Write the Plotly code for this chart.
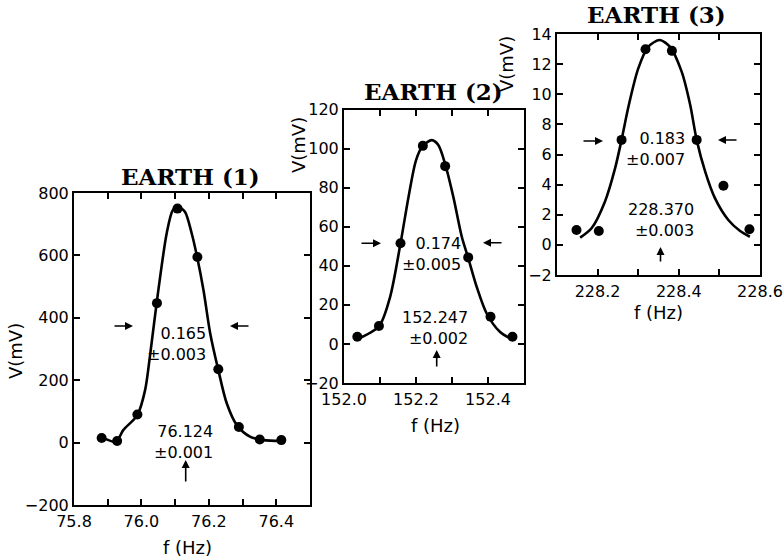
import plotly.graph_objects as go

# ---------------- data ----------------
# EARTH (1)
f1 = [75.882, 75.928, 75.988, 76.046, 76.107, 76.166, 76.228, 76.289, 76.351, 76.415]
v1 = [15, 5, 90, 447, 750, 595, 235, 50, 10, 8]
fit_f1 = [75.893, 75.925, 75.946, 75.988, 76.011, 76.025, 76.040, 76.057, 76.075, 76.093,
          76.109, 76.129, 76.149, 76.166, 76.184, 76.204, 76.228, 76.253, 76.283, 76.322,
          76.362, 76.415]
fit_v1 = [12, 3, 40, 88, 169, 275, 404, 543, 671, 745,
          756, 740, 671, 591, 489, 350, 233, 126, 56, 19,
          8, 5]

# EARTH (2)
f2 = [152.037, 152.097, 152.157, 152.219, 152.281, 152.345, 152.407, 152.468]
v2 = [3.7, 9.2, 51.5, 101.4, 91.0, 44.3, 13.9, 3.7]
fit_f2 = [152.031, 152.097, 152.128, 152.157, 152.179, 152.200, 152.219, 152.244, 152.262,
          152.281, 152.304, 152.327, 152.345, 152.369, 152.396, 152.433, 152.470]
fit_v2 = [2.0, 9, 24, 51.5, 75, 94, 101.5, 104.3, 101.8,
          92, 75, 55, 44, 29, 15.7, 6.2, 2]

# EARTH (3)
f3 = [228.148, 228.203, 228.259, 228.318, 228.383, 228.444, 228.510, 228.574]
v3 = [0.99, 0.92, 6.97, 12.99, 12.88, 6.97, 3.93, 1.04]
fit_f3 = [228.157, 228.185, 228.218, 228.243, 228.259, 228.277, 228.300, 228.325, 228.353,
          228.378, 228.407, 228.428, 228.444, 228.465, 228.489, 228.522, 228.551, 228.575]
fit_v3 = [0.48, 1.1, 2.87, 5.08, 6.97, 9.3, 11.7, 13.16, 13.6,
          13.16, 11.5, 9.3, 6.97, 4.86, 3.1, 1.65, 0.92, 0.54]

titles = ["EARTH (1)", "EARTH (2)", "EARTH (3)"]
widths = ["0.165", "0.174", "0.183"]
width_err = ["±0.003", "±0.005", "±0.007"]
centers = ["76.124", "152.247", "228.370"]
center_err = ["±0.001", "±0.002", "±0.003"]

x_ranges = [[75.8, 76.5], [152.0, 152.5], [228.1, 228.6]]
x_major = [[75.8, 76.0, 76.2, 76.4], [152.0, 152.2, 152.4], [228.2, 228.4, 228.6]]
x_minor = [[75.9, 76.1, 76.3], [152.1, 152.3], [228.1, 228.3, 228.5]]
y_ranges = [[-200, 800], [-20, 120], [-2, 14]]
y_dtick = [200, 20, 2]

# ---------------- layout helpers ----------------
W, H = 783, 559


def px(x):
    return x / W


def py(y):
    return 1 - y / H


# plot boxes in pixels: (left, right, top, bottom)
boxes = [(74, 310, 193, 505), (344, 524, 109.5, 383), (557, 760, 34, 275)]

TICKFONT = dict(family="DejaVu Sans", size=16, color="black")
fig = go.Figure()

series = [(f1, v1, fit_f1, fit_v1), (f2, v2, fit_f2, fit_v2), (f3, v3, fit_f3, fit_v3)]
for i, (fx, vy, ffx, fvy) in enumerate(series):
    sfx = "" if i == 0 else str(i + 1)
    fig.add_trace(go.Scatter(x=ffx, y=fvy, mode="lines",
                             line=dict(color="black", width=2.6, shape="spline", smoothing=0.8),
                             xaxis="x" + sfx, yaxis="y" + sfx, showlegend=False, hoverinfo="skip"))
    fig.add_trace(go.Scatter(x=fx, y=vy, mode="markers",
                             marker=dict(color="black", size=10),
                             xaxis="x" + sfx, yaxis="y" + sfx, showlegend=False))

layout = dict(width=W, height=H, margin=dict(l=0, r=0, t=0, b=0, autoexpand=False),
              paper_bgcolor="white", plot_bgcolor="white", showlegend=False,
              template="none")

for i, (l, r, t, b) in enumerate(boxes):
    sfx = "" if i == 0 else str(i + 1)
    layout["xaxis" + sfx] = dict(
        domain=[px(l), px(r)], anchor="y" + sfx, range=x_ranges[i], automargin=False,
        tickmode="array", tickvals=x_major[i], ticktext=[f"{v:.1f}" for v in x_major[i]],
        ticks="inside", ticklen=6, tickwidth=1.5, tickcolor="black",
        minor=dict(tickmode="array", tickvals=x_minor[i], ticks="inside", ticklen=6,
                   tickwidth=1.5, tickcolor="black", showgrid=False),
        showline=True, linecolor="black", linewidth=2, mirror="allticks",
        showgrid=False, zeroline=False, tickfont=TICKFONT, ticklabelstandoff=1)
    layout["yaxis" + sfx] = dict(
        domain=[py(b), py(t)], anchor="x" + sfx, range=y_ranges[i], automargin=False,
        dtick=y_dtick[i], tick0=y_ranges[i][0],
        ticks="inside", ticklen=6, tickwidth=1.5, tickcolor="black",
        showline=True, linecolor="black", linewidth=2, mirror="allticks",
        showgrid=False, zeroline=False, tickfont=TICKFONT)

fig.update_layout(**layout)

ann = []
TXT = dict(family="DejaVu Sans", size=16, color="black")

# panel titles
title_pos = [(190, 176), (433, 91.5), (656, 15)]
for (x, y), t in zip(title_pos, titles):
    ann.append(dict(x=px(x), y=py(y), xref="paper", yref="paper", text=t, showarrow=False,
                    xanchor="center", yanchor="middle",
                    font=dict(family="DejaVu Serif", size=23, color="black", weight="bold")))

# axis titles
vpos = [(15, 351), (298, 145), (507, 64)]
fpos = [(187.5, 547), (435, 425), (658, 312)]
for (x, y) in vpos:
    ann.append(dict(x=px(x), y=py(y), xref="paper", yref="paper", text="V(mV)", textangle=-90,
                    showarrow=False, xanchor="center", yanchor="middle",
                    font=dict(family="DejaVu Sans", size=18, color="black")))
for (x, y) in fpos:
    ann.append(dict(x=px(x), y=py(y), xref="paper", yref="paper", text="f (Hz)",
                    showarrow=False, xanchor="center", yanchor="middle",
                    font=dict(family="DejaVu Sans", size=18, color="black")))

# width / center texts (two right-aligned lines), positions: (right edge x, block centre y)
wpos = [(207.5, 344), (461.5, 254), (686, 149)]
cpos = [(214.5, 441.7), (468.5, 328.3), (695, 220.3)]
for i in range(3):
    ann.append(dict(x=px(wpos[i][0]), y=py(wpos[i][1]), xref="paper", yref="paper",
                    text=widths[i] + "<br>" + width_err[i], showarrow=False, align="right",
                    xanchor="right", yanchor="middle", font=TXT, borderpad=0))
    ann.append(dict(x=px(cpos[i][0]), y=py(cpos[i][1]), xref="paper", yref="paper",
                    text=centers[i] + "<br>" + center_err[i], showarrow=False, align="right",
                    xanchor="right", yanchor="middle", font=TXT, borderpad=0))

# arrows: (tip x, tip y, ax, ay)
arrows = [
    (133, 326, -20, 0), (230, 326, 20, 0), (185.7, 460, 0, 23),
    (381, 243.3, -21, 0), (483, 242.7, 20, 0), (436.7, 350, 0, 18),
    (603, 141, -21, 0), (718, 140, 20, 0), (660.5, 247, 0, 16),
]
for (x, y, dx, dy) in arrows:
    ann.append(dict(x=px(x), y=py(y), xref="paper", yref="paper", text="", showarrow=True,
                    ax=dx, ay=dy, arrowhead=2, arrowsize=1, arrowwidth=1.6, arrowcolor="black",
                    standoff=0, startstandoff=0))

fig.update_layout(annotations=ann)
fig.write_html("out.html", config={"displayModeBar": False},
               post_script="document.body.style.margin='0';document.body.style.overflow='hidden';")
